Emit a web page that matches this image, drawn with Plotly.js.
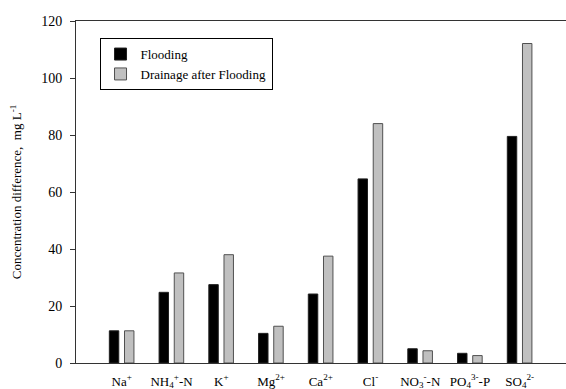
<!DOCTYPE html>
<html>
<head>
<meta charset="utf-8">
<script src="https://cdn.plot.ly/plotly-3.0.1.min.js"></script>
<style>html,body{margin:0;padding:0;background:#fff;}#chart{width:566px;height:389px;}</style>
</head>
<body>
<div id="chart"></div>
<script>
const categories = [
  'Na<sup>+</sup>',
  'NH<sub>4</sub><sup>+</sup>-N',
  'K<sup>+</sup>',
  'Mg<sup>2+</sup>',
  'Ca<sup>2+</sup>',
  'Cl<sup>-</sup>',
  'NO<sub>3</sub><sup>-</sup>-N',
  'PO<sub>4</sub><sup>3-</sup>-P',
  'SO<sub>4</sub><sup>2-</sup>'
];
const flooding = [11.3, 24.8, 27.5, 10.4, 24.2, 64.6, 5.0, 3.4, 79.5];
const drainage = [11.3, 31.6, 38.0, 12.9, 37.5, 84.0, 4.3, 2.6, 112.1];
const yTicks = [0, 20, 40, 60, 80, 100, 120];

const font = '"Liberation Serif", serif';

const traces = [
  {
    type: 'bar', name: 'Flooding', x: categories, y: flooding,
    width: 0.19, offset: -0.25,
    marker: {color: '#000000', line: {color: '#202020', width: 1}}
  },
  {
    type: 'bar', name: 'Drainage after Flooding', x: categories, y: drainage,
    width: 0.19, offset: 0.055,
    marker: {color: '#c0c0c0', line: {color: '#505050', width: 1}}
  }
];

const layout = {
  width: 566, height: 389,
  margin: {l: 76, r: 0, t: 21, b: 26},
  paper_bgcolor: '#ffffff', plot_bgcolor: '#ffffff',
  font: {family: font, size: 12, color: '#000'},
  showlegend: true,
  legend: {
    x: 0.048, y: 0.95, xanchor: 'left', yanchor: 'top',
    bordercolor: '#000', borderwidth: 1, bgcolor: '#fff',
    font: {family: font, size: 13},
    tracegroupgap: 0, itemwidth: 30
  },
  xaxis: {
    type: 'category',
    range: [-0.92, 8.93],
    showline: true, linecolor: '#333', linewidth: 1, mirror: true,
    ticks: '', showgrid: false, zeroline: false,
    tickfont: {family: font, size: 13},
    ticklabelstandoff: 6,
    fixedrange: true
  },
  yaxis: {
    range: [0, 120],
    tickvals: yTicks, ticktext: yTicks.map(String),
    showline: true, linecolor: '#333', linewidth: 1,
    ticks: 'outside', ticklen: 5, tickcolor: '#333',
    showgrid: false, zeroline: false,
    tickfont: {family: font, size: 14},
    ticklabelstandoff: 5,
    title: {text: 'Concentration difference,  mg L<sup>-1</sup>', font: {family: font, size: 13}, standoff: 16},
    fixedrange: true
  },
  bargap: 0, barmode: 'group'
};

Plotly.newPlot('chart', traces, layout, {displayModeBar: false, staticPlot: true});
</script>
</body>
</html>
